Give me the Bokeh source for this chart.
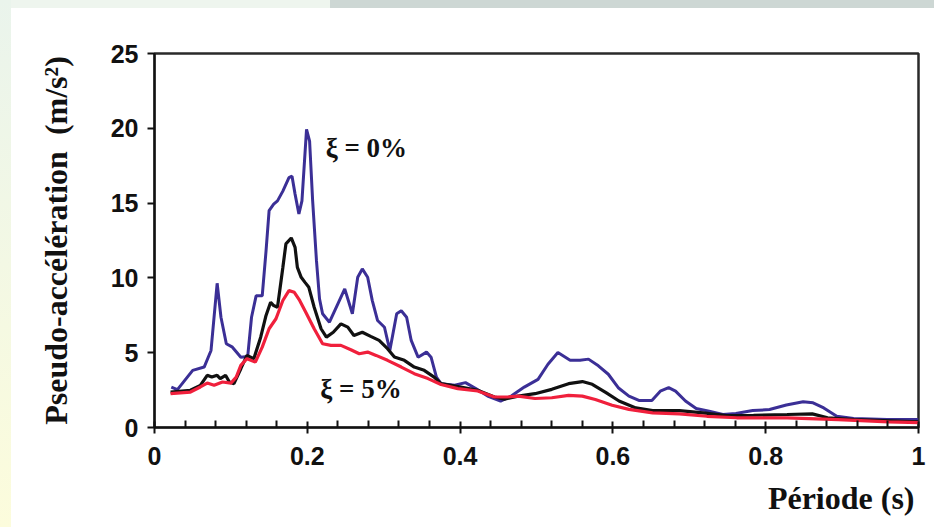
from bokeh.plotting import figure
from bokeh.models import Range1d, FixedTicker, Label, Title
from bokeh.embed import file_html
from bokeh.resources import INLINE

# Pseudo-acceleration response spectra (m/s²) versus period (s)
period_0 = [0.022, 0.030, 0.050, 0.065, 0.074, 0.082, 0.087, 0.094, 0.102, 0.113,
            0.122, 0.127, 0.133, 0.141, 0.146, 0.150, 0.156, 0.161, 0.168, 0.176,
            0.180, 0.184, 0.189, 0.193, 0.199, 0.203, 0.207, 0.212, 0.216, 0.220,
            0.229, 0.240, 0.249, 0.255, 0.259, 0.266, 0.272, 0.279, 0.285, 0.292,
            0.301, 0.308, 0.317, 0.323, 0.330, 0.336, 0.345, 0.356, 0.362, 0.369,
            0.375, 0.393, 0.407, 0.420, 0.436, 0.453, 0.467, 0.484, 0.502, 0.515,
            0.528, 0.544, 0.557, 0.568, 0.581, 0.594, 0.607, 0.621, 0.634, 0.651,
            0.662, 0.673, 0.682, 0.695, 0.709, 0.726, 0.744, 0.761, 0.783, 0.805,
            0.827, 0.849, 0.862, 0.876, 0.893, 0.915, 0.959, 1.000]
psa_0 = [2.70, 2.53, 3.82, 4.04, 5.15, 9.64, 7.37, 5.60, 5.37, 4.70,
         4.75, 7.37, 8.80, 8.80, 11.8, 14.5, 14.93, 15.15, 15.8, 16.7,
         16.8, 15.6, 14.27, 15.15, 19.93, 19.15, 15.15, 11.15, 8.6, 7.6,
         7.04, 8.27, 9.27, 8.27, 7.6, 10.04, 10.6, 10.04, 8.5, 7.15,
         6.7, 5.15, 7.6, 7.8, 7.37, 5.82, 4.7, 5.04, 4.7, 3.37,
         2.93, 2.82, 3.0, 2.62, 2.1, 1.77, 2.1, 2.7, 3.22, 4.23,
         5.01, 4.5, 4.5, 4.57, 4.12, 3.56, 2.66, 2.1, 1.81, 1.81,
         2.43, 2.66, 2.43, 1.77, 1.27, 1.09, 0.87, 0.93, 1.13, 1.2,
         1.5, 1.72, 1.65, 1.31, 0.75, 0.6, 0.53, 0.53]

period_mid = [0.021, 0.047, 0.060, 0.069, 0.075, 0.082, 0.086, 0.093, 0.098, 0.104,
              0.113, 0.121, 0.130, 0.139, 0.146, 0.152, 0.156, 0.161, 0.168, 0.172,
              0.179, 0.184, 0.187, 0.192, 0.197, 0.202, 0.209, 0.218, 0.225, 0.234,
              0.244, 0.253, 0.261, 0.272, 0.283, 0.294, 0.305, 0.314, 0.327, 0.340,
              0.353, 0.366, 0.375, 0.401, 0.423, 0.445, 0.458, 0.476, 0.498, 0.520,
              0.542, 0.560, 0.573, 0.591, 0.608, 0.630, 0.652, 0.687, 0.718, 0.749,
              0.784, 0.828, 0.861, 0.881, 0.916, 1.000]
psa_mid = [2.37, 2.49, 2.82, 3.49, 3.37, 3.49, 3.27, 3.49, 3.04, 2.93,
           3.93, 4.82, 4.60, 6.04, 7.49, 8.37, 8.15, 8.04, 10.7, 12.27,
           12.67, 12.04, 10.7, 10.04, 9.7, 9.37, 8.04, 6.6, 6.04, 6.37,
           6.93, 6.71, 6.15, 6.37, 6.09, 5.82, 5.27, 4.71, 4.49, 4.04,
           3.82, 3.37, 2.93, 2.71, 2.49, 2.04, 1.90, 2.10, 2.26, 2.55,
           2.93, 3.07, 2.89, 2.33, 1.77, 1.31, 1.13, 1.13, 0.98, 0.80,
           0.82, 0.87, 0.91, 0.65, 0.53, 0.37]

period_5 = [0.021, 0.047, 0.060, 0.069, 0.078, 0.089, 0.100, 0.107, 0.113, 0.121,
            0.132, 0.141, 0.150, 0.159, 0.168, 0.176, 0.183, 0.190, 0.198, 0.209,
            0.220, 0.231, 0.244, 0.257, 0.268, 0.279, 0.290, 0.305, 0.323, 0.340,
            0.358, 0.375, 0.397, 0.423, 0.445, 0.462, 0.476, 0.498, 0.520, 0.542,
            0.560, 0.577, 0.599, 0.621, 0.652, 0.687, 0.723, 0.762, 0.828, 0.895,
            0.961, 1.000]
psa_5 = [2.27, 2.37, 2.71, 2.97, 2.82, 3.04, 2.97, 3.37, 4.15, 4.60,
         4.37, 5.37, 6.60, 7.27, 8.49, 9.15, 9.04, 8.49, 7.71, 6.60,
         5.60, 5.49, 5.49, 5.20, 4.93, 5.04, 4.82, 4.49, 4.04, 3.60,
         3.27, 2.87, 2.60, 2.44, 2.04, 2.04, 2.10, 1.94, 1.99, 2.15,
         2.10, 1.87, 1.49, 1.21, 0.98, 0.91, 0.75, 0.65, 0.65, 0.53,
         0.37, 0.33]

x_ticks = [0, 0.2, 0.4, 0.6, 0.8, 1.0]
x_tick_labels = ["0", "0.2", "0.4", "0.6", "0.8", "1"]
x_minor_ticks = [0.04, 0.08, 0.12, 0.16, 0.24, 0.28, 0.32, 0.36, 0.44, 0.48, 0.52,
                 0.56, 0.64, 0.68, 0.72, 0.76, 0.84, 0.88, 0.92, 0.96]
y_ticks = [0, 5, 10, 15, 20, 25]
y_tick_labels = ["0", "5", "10", "15", "20", "25"]

p = figure(width=934, height=527, x_range=Range1d(0, 1), y_range=Range1d(0, 25),
           output_backend="svg", toolbar_location=None,
           min_border_left=154, min_border_right=16,
           min_border_top=53, min_border_bottom=100,
           border_fill_color=None, background_fill_color=None)

# page edge strips behind a white page
p.styles = {"background": (
    "linear-gradient(to bottom, #eaf4ec, #fcfcdc) 0 0 / 11px 100% no-repeat, "
    "linear-gradient(#eef5ee, #eef5ee) 0 0 / 330px 8px no-repeat, "
    "linear-gradient(#cdd7d4, #cdd7d4) 330px 0 / 604px 8px no-repeat, "
    "#ffffff")}

p.xgrid.visible = False
p.ygrid.visible = False
p.outline_line_color = "#2a2a2a"
p.outline_line_width = 2.5
p.outline_line_alpha = 1.0

tick_font = "Liberation Sans"
for ax in (p.xaxis[0], p.yaxis[0]):
    ax.axis_line_color = "#111111"
    ax.axis_line_width = 2
    ax.major_tick_line_color = "#111111"
    ax.major_tick_line_width = 2
    ax.minor_tick_line_color = "#111111"
    ax.minor_tick_line_width = 2
    ax.major_label_text_font = tick_font
    ax.major_label_text_font_style = "bold"
    ax.major_label_text_font_size = "25px"
    ax.major_label_text_color = "#111111"

xa = p.xaxis[0]
xa.ticker = FixedTicker(ticks=x_ticks, minor_ticks=x_minor_ticks)
xa.major_label_overrides = dict(zip(x_ticks, x_tick_labels))
xa.major_tick_in = 6
xa.major_tick_out = 6
xa.minor_tick_in = 7
xa.minor_tick_out = 0
xa.major_label_standoff = 13

ya = p.yaxis[0]
ya.ticker = FixedTicker(ticks=y_ticks, minor_ticks=[])
ya.major_label_overrides = dict(zip(y_ticks, y_tick_labels))
ya.major_tick_in = 0
ya.major_tick_out = 7
ya.major_label_standoff = 9
ya.axis_label = "Pseudo-accélération\u00a0\u00a0(m/s²)"
ya.axis_label_text_font = "Liberation Serif"
ya.axis_label_text_font_style = "bold"
ya.axis_label_text_font_size = "32px"
ya.axis_label_text_color = "#111111"
ya.axis_label_standoff = 34

p.line(period_0, psa_0, line_color="#3b2f96", line_width=3)
p.line(period_mid, psa_mid, line_color="#111111", line_width=3.2)
p.line(period_5, psa_5, line_color="#f0203c", line_width=3.2)

serif_bold = dict(text_font="Liberation Serif", text_font_style="bold",
                  text_font_size="27px", text_color="#111111")
p.add_layout(Label(x=0.224, y=18.7, text="ξ = 0%", text_align="left",
                   text_baseline="alphabetic", **serif_bold))
p.add_layout(Label(x=0.217, y=2.6, text="ξ = 5%", text_align="left",
                   text_baseline="alphabetic", **serif_bold))

x_title = Title(text="Période (s)", align="right", text_font="Liberation Serif",
                text_font_style="bold", text_font_size="32px",
                text_color="#111111", standoff=21, offset=4)
p.add_layout(x_title, "below")

open("out.html", "w").write(file_html(p, INLINE))
